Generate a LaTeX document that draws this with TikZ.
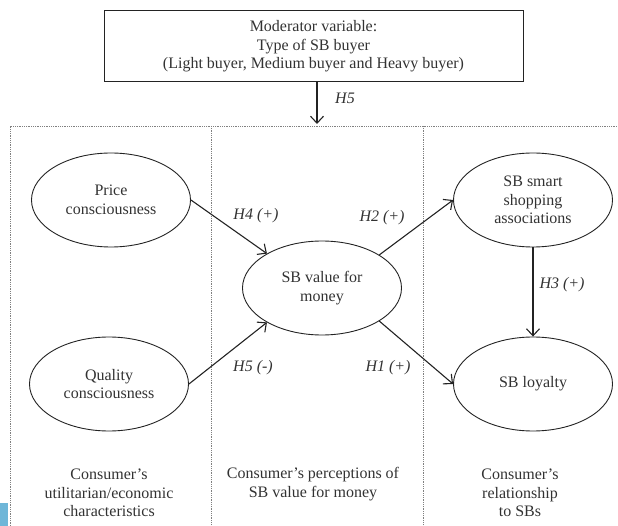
\documentclass[tikz,border=0pt]{standalone}
\usepackage{fontspec}
\setmainfont{Liberation Serif}
\usetikzlibrary{shapes.geometric,arrows.meta}

\definecolor{inkgray}{RGB}{35,35,35}
\definecolor{txtgray}{RGB}{50,50,50}
\definecolor{tabblue}{RGB}{110,182,216}

\begin{document}
\begin{tikzpicture}[x=1pt,y=-1pt,
    construct/.style={draw=inkgray,line width=0.9pt,ellipse,minimum width=159pt,
      minimum height=94pt,inner sep=0pt,align=center,text=txtgray},
    path/.style={draw=inkgray,line width=1.1pt,-{Straight Barb[length=7pt,width=13pt]}},
    hyp/.style={font=\itshape,text=txtgray,inner sep=0pt},
    divider/.style={draw=gray,line width=0.8pt,densely dotted},
    panel/.style={align=center,text=txtgray,inner sep=0pt}]

  \useasboundingbox (0,0) rectangle (618,526);
  \fontsize{16}{18.5}\selectfont

  %% ---- Moderator box ----
  \node[draw=inkgray,line width=1pt,minimum width=419pt,minimum height=71pt,
    align=center,text=txtgray] (moderator) at (313.5,46.5)
    {Moderator variable:\\Type of SB buyer\\(Light buyer, Medium buyer and Heavy buyer)};
  \coordinate (h5end) at (317,124);
  \draw[path] (moderator.south -| h5end) -- (h5end);
  \node[hyp] (h5mod) at (345,98) {H5};

  %% ---- Dotted panels ----
  \draw[divider] (10,526) -- (10,126) -- (618,126);
  \draw[divider] (211,126) -- (211,526);
  \draw[divider] (423,126) -- (423,526);
  \fill[tabblue] (0,503) rectangle (8,526);

  %% ---- Constructs ----
  \node[construct] (price) at (111,200) {Price\\consciousness};
  \node[construct] (quality) at (109,384) {Quality\\consciousness};
  \node[construct] (value) at (322,288) {SB value for\\money};
  \node[construct] (smart) at (533,200) {SB smart\\shopping\\associations};
  \node[construct] (loyalty) at (533,384) {SB loyalty};

  % Hypothesised paths
  \draw[path] (price.east) -- (value.148);
  \draw[path] (quality.east) -- (value.212);
  \draw[path] (value.30) -- (smart.west);
  \draw[path] (value.330) -- (loyalty.west);
  \draw[path] (smart.south) -- (loyalty.north);

  \node[hyp] (h4) at (256,216) {H4 (+)};
  \node[hyp] (h5) at (253,368) {H5 (-)};
  \node[hyp] (h2) at (382,218) {H2 (+)};
  \node[hyp] (h1) at (388,368) {H1 (+)};
  \node[hyp] (h3) at (562,285) {H3 (+)};

  %% ---- Panel captions ----
  \node[panel] (capleft) at (109,493) {Consumer's\\utilitarian/economic\\characteristics};
  \node[panel] (capmid) at (313,484) {Consumer's perceptions of\\SB value for money};
  \node[panel] (capright) at (520,493) {Consumer's\\relationship\\to SBs};

\end{tikzpicture}
\end{document}
